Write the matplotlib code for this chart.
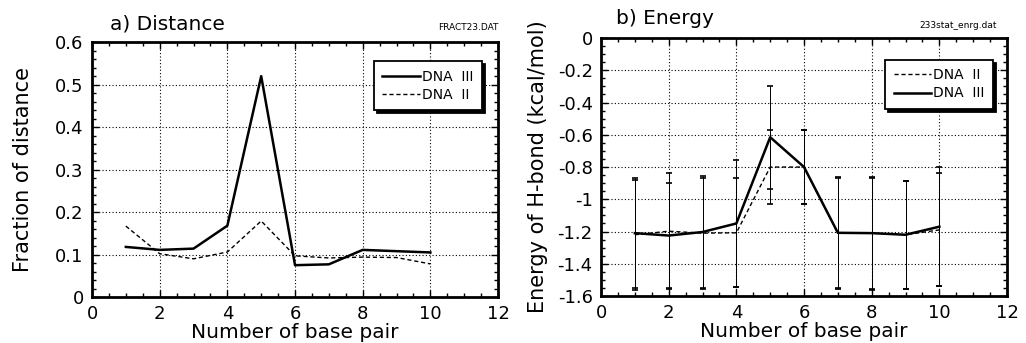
import matplotlib
matplotlib.use("Agg")
import matplotlib.pyplot as plt
from matplotlib.ticker import MultipleLocator, FuncFormatter

plt.rcParams['font.family'] = 'DejaVu Sans'
plt.rcParams['axes.unicode_minus'] = False

# a) Distance
bp = [1, 2, 3, 4, 5, 6, 7, 8, 9, 10]
dist_III = [0.118, 0.111, 0.114, 0.168, 0.52, 0.075, 0.077, 0.111, 0.108, 0.105]
dist_II = [0.167, 0.102, 0.090, 0.106, 0.179, 0.097, 0.092, 0.094, 0.093, 0.078]

# b) Energy (mean and error half-width)
en_II = [-1.22, -1.198, -1.21, -1.208, -0.80, -0.80, -1.21, -1.21, -1.22, -1.19]
en_II_err = [0.34, 0.358, 0.345, 0.339, 0.23, 0.23, 0.345, 0.345, 0.335, 0.35]
en_III = [-1.21, -1.225, -1.203, -1.15, -0.615, -0.80, -1.208, -1.21, -1.22, -1.17]
en_III_err = [0.34, 0.325, 0.345, 0.394, 0.32, 0.23, 0.345, 0.35, 0.335, 0.37]

fig = plt.figure(figsize=(10.26, 3.43), dpi=100)
ax1 = fig.add_axes([0.0897, 0.134, 0.3957, 0.743])
ax2 = fig.add_axes([0.5858, 0.137, 0.3957, 0.752])

fmt = FuncFormatter(lambda v, p: ('%g' % round(v, 3)).replace('\u2212', '-'))


def style(ax, ymaj, ymin):
    ax.set_xlim(0, 12)
    ax.xaxis.set_major_locator(MultipleLocator(2))
    ax.xaxis.set_minor_locator(MultipleLocator(0.5))
    ax.yaxis.set_major_locator(MultipleLocator(ymaj))
    ax.yaxis.set_minor_locator(MultipleLocator(ymin))
    ax.yaxis.set_major_formatter(fmt)
    ax.tick_params(which='both', direction='in', top=True, right=True, width=1)
    ax.tick_params(which='major', length=5, labelsize=13, pad=6)
    ax.tick_params(which='minor', length=3)
    ax.grid(True, which='major', color='k', linestyle=(0, (1, 2)), linewidth=0.8)
    for s in ax.spines.values():
        s.set_linewidth(2)
    ax.set_xlabel('Number of base pair', fontsize=14.5, labelpad=0)


dash = (0, (3, 2))
shadow = {'color': 'black', 'alpha': 1, 'ox': 2, 'oy': -2}
legkw = dict(fontsize=10, fancybox=False, shadow=shadow, edgecolor='k', framealpha=1,
             handlelength=2.7, handletextpad=0.15, labelspacing=0.3,
             borderpad=0.6, borderaxespad=0)

# left panel
ax1.plot(bp, dist_III, color='k', lw=1.8, label='DNA  III')
ax1.plot(bp, dist_II, color='k', lw=1.0, linestyle=dash, label='DNA  II')
ax1.set_ylim(0, 0.6)
style(ax1, 0.1, 0.02)
ax1.set_ylabel('Fraction of distance', fontsize=15)
ax1.yaxis.set_label_coords(-0.145, 0.5)
ax1.text(0.045, 1.035, 'a) Distance', transform=ax1.transAxes, fontsize=14.5, va='bottom')
ax1.text(1.0, 1.04, 'FRACT23.DAT', transform=ax1.transAxes, fontsize=6.5,
         ha='right', va='bottom')
leg = ax1.legend(loc='upper right', bbox_to_anchor=(0.96, 0.925), **legkw)
leg.get_frame().set_linewidth(1.3)

# right panel
ax2.errorbar(bp, en_II, yerr=en_II_err, fmt='none', ecolor='k',
             elinewidth=0.7, capsize=2, capthick=1.2)
ax2.errorbar(bp, en_III, yerr=en_III_err, fmt='none', ecolor='k',
             elinewidth=0.7, capsize=2, capthick=1.2)
ax2.plot(bp, en_II, color='k', lw=1.0, linestyle=dash, label='DNA  II')
ax2.plot(bp, en_III, color='k', lw=1.8, label='DNA  III')
ax2.set_ylim(-1.6, 0)
style(ax2, 0.2, 0.05)
ax2.set_ylabel('Energy of H-bond (kcal/mol)', fontsize=15)
ax2.yaxis.set_label_coords(-0.131, 0.5)
ax2.text(0.037, 1.04, 'b) Energy', transform=ax2.transAxes, fontsize=14.5, va='bottom')
ax2.text(0.975, 1.03, '233stat_enrg.dat', transform=ax2.transAxes, fontsize=6.5,
         ha='right', va='bottom')
leg2 = ax2.legend(loc='upper right', bbox_to_anchor=(0.965, 0.915), **legkw)
leg2.get_frame().set_linewidth(1.3)

fig.savefig('out.png', dpi=100)
